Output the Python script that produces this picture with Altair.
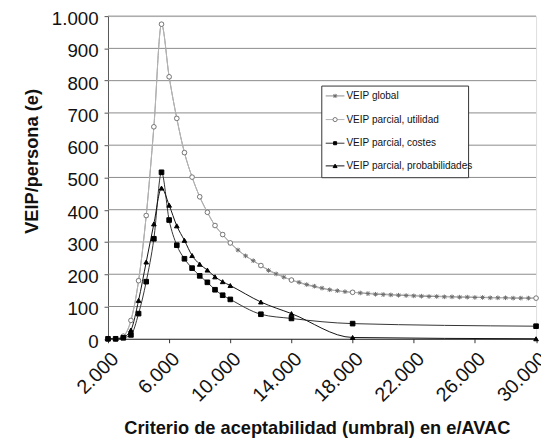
import altair as alt
import pandas as pd

# ---- data ----
x_dense = [2000 + 500 * i for i in range(57)]  # 2.000 .. 30.000 every 500
global_vals = [0, 0, 8, 57, 180, 382, 657, 975, 812, 683, 577, 501, 440, 392, 351, 323, 297,
               275, 257, 242, 227, 212, 201, 191, 182, 175, 168, 163, 157, 152, 149, 146, 144,
               142, 140, 138, 137, 136, 135, 134, 133, 132, 131, 131, 130, 130, 129, 129, 128,
               128, 127, 127, 127, 126, 126, 126, 126]

x_sparse = [2000, 2500, 3000, 3500, 4000, 4500, 5000, 5500, 6000, 6500, 7000, 7500, 8000,
            8500, 9000, 9500, 10000, 12000, 14000, 18000, 30000]
utilidad_vals = [0, 0, 8, 57, 180, 382, 657, 975, 812, 683, 577, 501, 440, 392, 351, 323, 297,
                 227, 182, 144, 126]
costes_vals = [0, 0, 3, 12, 78, 177, 310, 516, 368, 290, 248, 219, 195, 175, 152, 135, 122,
               76, 63, 47, 39]
prob_vals = [0, 0, 5, 27, 119, 238, 356, 467, 414, 350, 305, 258, 231, 213, 192, 177, 165,
             114, 78, 4, 0]

series_names = ["VEIP global", "VEIP parcial, utilidad", "VEIP parcial, costes",
                "VEIP parcial, probabilidades"]
x_ticks = list(range(2000, 30001, 4000))
y_ticks = list(range(0, 1001, 100))

STAR = "M-1,0L1,0M0,-1L0,1M-0.75,-0.75L0.75,0.75M-0.75,0.75L0.75,-0.75"
line_colors = ["#8c8c8c", "#b5b5b5", "#333333", "#111111"]
shapes = [STAR, "circle", "square", "triangle-up"]
fills = ["transparent", "white", "#000000", "#000000"]
strokes = ["#6e6e6e", "#777777", "#000000", "#000000"]
sizes = [22, 22, 12, 20]

frames = []
for name, xs, ys in zip(series_names, [x_dense, x_sparse, x_sparse, x_sparse],
                        [global_vals, utilidad_vals, costes_vals, prob_vals]):
    frames.append(pd.DataFrame({"series": name, "x": xs, "y": ys}))
df = pd.concat(frames, ignore_index=True)
df["order"] = df["series"].map({n: i for i, n in enumerate(series_names)})
df_grid = pd.DataFrame({"x": [2000] * 10, "y": [v for v in y_ticks if v > 0]})

FMT = "replace(format(datum.value, ','), ',', '.')"
X = alt.X("x:Q", scale=alt.Scale(domain=[2000, 30000], nice=False, zero=False),
          axis=alt.Axis(values=x_ticks, labelExpr=FMT, labelAngle=-45, labelAlign="right",
                        labelBaseline="top", labelFontSize=20, labelColor="#111",
                        labelFont="Liberation Sans", labelPadding=6, labelOverlap=False,
                        labelFlush=False, tickSize=4, tickColor="#333", domainColor="#222",
                        grid=False, title="Criterio de aceptabilidad (umbral) en e/AVAC",
                        titleFont="Liberation Sans", titleFontSize=18.5,
                        titleFontWeight="bold", titleColor="#111", titleX=212, titleY=96,
                        titleBaseline="alphabetic", titleAlign="center"))
Y = alt.Y("y:Q", scale=alt.Scale(domain=[0, 1000], nice=False),
          axis=alt.Axis(values=y_ticks, labelExpr=FMT, labelFontSize=19, labelOverlap=False,
                        labelFlush=False, labelOffset=2.5, grid=False, labelColor="#111",
                        labelFont="Liberation Sans", labelPadding=6, tickSize=4,
                        tickColor="#555", domainColor="#555",
                        title="VEIP/persona (e)", titleFont="Liberation Sans",
                        titleFontSize=18.5, titleFontWeight="bold", titleColor="#111",
                        titleAngle=-90, titleX=-78, titleY=147, titleAlign="center",
                        titleBaseline="middle"))

grid = alt.Chart(df_grid).mark_rule(color="#8a8a8a", strokeWidth=1).encode(
    y=Y, x=alt.value(0), x2=alt.value(434.5))

lines = alt.Chart(df).mark_line(strokeWidth=1, interpolate="monotone").encode(
    x=X, y=Y,
    color=alt.Color("series:N", scale=alt.Scale(domain=series_names, range=line_colors),
                    legend=None))

points = alt.Chart(df).mark_point(filled=True, strokeWidth=1, opacity=1).encode(
    x=X, y=Y,
    shape=alt.Shape("series:N", scale=alt.Scale(domain=series_names, range=shapes), legend=None),
    fill=alt.Fill("series:N", scale=alt.Scale(domain=series_names, range=fills), legend=None),
    stroke=alt.Stroke("series:N", scale=alt.Scale(domain=series_names, range=strokes), legend=None),
    size=alt.Size("series:N", scale=alt.Scale(domain=series_names, range=sizes), legend=None),
    order=alt.Order("order:Q"))

# ---- legend (manual box) ----
one = pd.DataFrame({"a": [0]})
box = alt.Chart(one).mark_rect(fill="white", stroke="#333333", strokeWidth=1).encode(
    x=alt.value(217), x2=alt.value(366), y=alt.value(71), y2=alt.value(164))
legend_layers = [box]
leg_y = [81, 105, 129, 152]
for i, name in enumerate(series_names):
    yy = leg_y[i]
    legend_layers.append(alt.Chart(one).mark_rule(color=line_colors[i], strokeWidth=1).encode(
        x=alt.value(221), x2=alt.value(240), y=alt.value(yy)))
    legend_layers.append(alt.Chart(one).mark_point(
        shape=shapes[i], size=sizes[i] * 0.8, filled=True, fill=fills[i], stroke=strokes[i],
        strokeWidth=1, opacity=1).encode(x=alt.value(230.5), y=alt.value(yy)))
    legend_layers.append(alt.Chart(one).mark_text(
        align="left", baseline="middle", fontSize=10.2, color="#111",
        font="Liberation Sans").encode(
        x=alt.value(242), y=alt.value(yy), text=alt.value(name)))

chart = alt.layer(grid, lines, points, *legend_layers).properties(
    width=434.5, height=327.5,
    autosize=alt.AutoSizeParams(type="none"),
    padding={"left": 101.5, "top": 5, "right": 5, "bottom": 100},
)

chart.save("out.html", embed_options={"renderer": "svg", "actions": False})
